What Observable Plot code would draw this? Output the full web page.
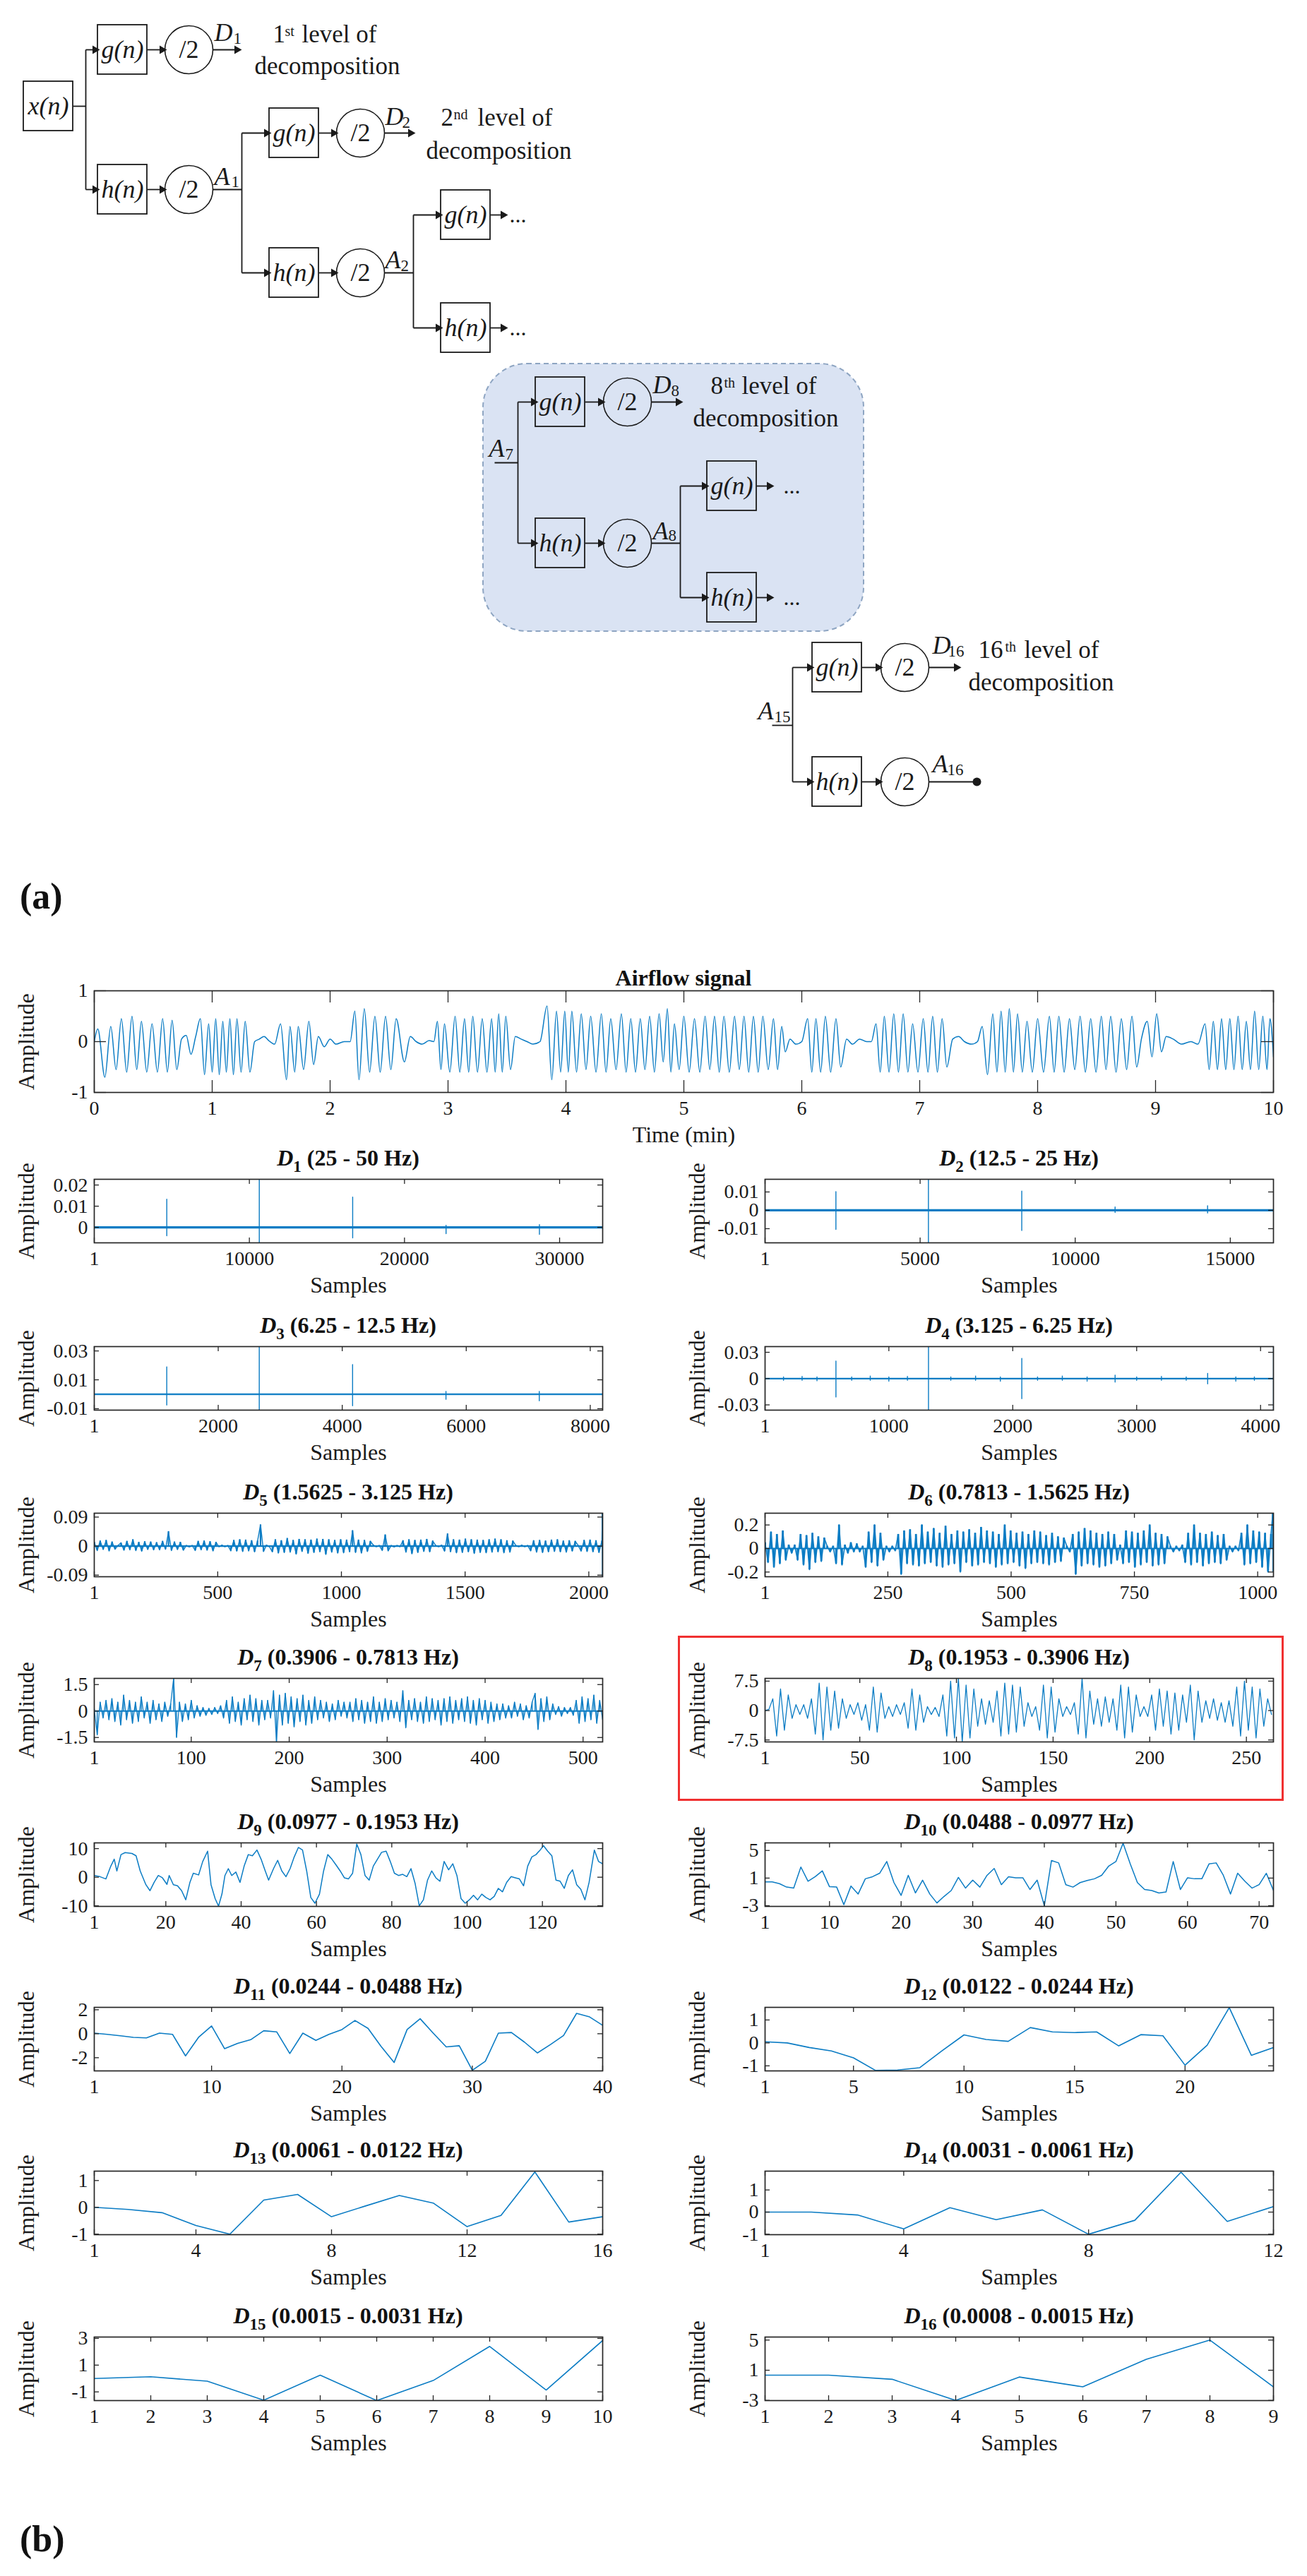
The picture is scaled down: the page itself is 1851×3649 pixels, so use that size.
<!DOCTYPE html>
<html><head><meta charset="utf-8">
<script src="https://cdn.jsdelivr.net/npm/d3@7"></script>
<script src="https://cdn.jsdelivr.net/npm/@observablehq/plot@0.6"></script>
<style>
body{margin:0;background:#fff;}
#fig{position:relative;width:1851px;height:3649px;font-family:"Liberation Serif","Times New Roman",serif;color:#111;overflow:hidden;background:#fff}
.ptitle{position:absolute;transform:translateX(-50%);white-space:nowrap;font-weight:bold;font-size:32px;line-height:40px;height:40px}
.ptitle sub{font-size:0.72em;vertical-align:-0.38em;line-height:0}
.lbl{position:absolute;font-weight:bold;font-size:52px;line-height:60px}
</style></head><body><div id="fig"></div>
<script>
// ---------------- DATA ----------------
// Diagram (a): filter boxes (centre), downsamplers, wires, arrows
const boxNodes = [
  {label:"x(n)", cx:68, cy:150},
  {label:"g(n)", cx:173, cy:70}, {label:"h(n)", cx:173, cy:268},
  {label:"g(n)", cx:416, cy:188}, {label:"h(n)", cx:416, cy:386},
  {label:"g(n)", cx:659, cy:304}, {label:"h(n)", cx:659, cy:464},
  {label:"g(n)", cx:793, cy:569}, {label:"h(n)", cx:793, cy:769},
  {label:"g(n)", cx:1036, cy:688}, {label:"h(n)", cx:1036, cy:846},
  {label:"g(n)", cx:1185, cy:945}, {label:"h(n)", cx:1185, cy:1107}
];
const downsamplers = [[267,70],[267,268],[510,188],[510,386],[888,569],[888,769],[1281,945],[1281,1107]];
const wires = [[103,150,121,150],[121,70,121,268],[301,268,342,268],[342,188,342,386],[544,386,585,386],[585,304,585,464],
  [700,655,733,655],[733,569,733,769],[922,769,963,769],[963,688,963,846],[1093,1027,1122,1027],[1122,945,1122,1107],[1315,1107,1383,1107]];
const arrows = [[121,70,138,70],[121,268,138,268],[208,70,233,70],[208,268,233,268],[301,70,339,70],
  [342,188,381,188],[342,386,381,386],[451,188,476,188],[451,386,476,386],[544,188,585,188],
  [585,304,624,304],[585,464,624,464],[694,304,716,304],[694,464,716,464],
  [733,569,759,569],[733,769,759,769],[828,569,854,569],[828,769,854,769],[922,569,964,569],
  [963,688,1001,688],[963,846,1001,846],[1071,688,1093,688],[1071,846,1093,846],
  [1122,945,1150,945],[1122,1107,1150,1107],[1220,945,1247,945],[1220,1107,1247,1107],[1315,945,1358,945]];
const endPoint = [[1383,1107]];
const highlight = [{x1:684, x2:1223, y1:515, y2:894}];
const symLabels = [
  {sym:"D", sub:"1", x:303, y:46, sx:330, sy:54},
  {sym:"A", sub:"1", x:303, y:250, sx:327, sy:257},
  {sym:"D", sub:"2", x:545, y:165, sx:569, sy:173},
  {sym:"A", sub:"2", x:545, y:368, sx:567, sy:376},
  {sym:"D", sub:"8", x:924, y:545, sx:950, sy:553},
  {sym:"A", sub:"7", x:692, y:635, sx:715, sy:643},
  {sym:"A", sub:"8", x:924, y:752, sx:946, sy:758},
  {sym:"D", sub:"16", x:1320, y:914, sx:1342, sy:922},
  {sym:"A", sub:"15", x:1073, y:1007, sx:1096, sy:1015},
  {sym:"A", sub:"16", x:1320, y:1082, sx:1341, sy:1090}
];
const levelParts = [
  {t:"1", x:386, y:48, s:35}, {t:"st", x:403, y:44, s:20}, {t:"level of", x:427, y:48, s:35},
  {t:"2", x:624, y:166, s:35}, {t:"nd", x:642, y:162, s:20}, {t:"level of", x:676, y:166, s:35},
  {t:"8", x:1006, y:546, s:35}, {t:"th", x:1025, y:542, s:20}, {t:"level of", x:1050, y:546, s:35},
  {t:"16", x:1385, y:920, s:35}, {t:"th", x:1423, y:916, s:20}, {t:"level of", x:1450, y:920, s:35}
];
const levelSecond = [[463,93],[706,213],[1084,592],[1474,966]];
const ellipses = [[721,304],[721,464],[1109,688],[1109,846]];

// Airflow signal: [time (min), amplitude]
const airflow = [
 [0,0],[0.03,0.25],[0.09,-0.7],[0.14,0.3],[0.185,-0.55],[0.23,0.45],[0.275,-0.6],[0.32,0.5],[0.36,-0.55],[0.40,0.4],[0.445,-0.6],[0.49,0.35],[0.535,-0.6],[0.58,0.45],[0.62,-0.6],[0.66,0.42],[0.70,-0.55],
 [0.74,0.05],[0.78,0.12],[0.82,-0.25],
 [0.86,0.1],[0.90,0.45],[0.935,-0.65],[0.97,0.35],[1.0,-0.6],[1.03,0.45],[1.06,-0.65],[1.09,0.4],[1.12,-0.6],[1.15,0.45],[1.18,-0.65],[1.21,0.45],[1.245,-0.6],[1.28,0.4],[1.32,-0.6],
 [1.36,0.0],[1.40,0.05],[1.44,0.1],[1.48,0.02],[1.53,-0.05],
 [1.58,0.35],[1.63,-0.75],[1.66,0.3],[1.70,-0.6],[1.73,0.3],[1.775,-0.55],[1.82,0.4],[1.86,-0.45],
 [1.90,0.1],[1.95,-0.1],[2.0,0.05],[2.05,-0.05],[2.12,0.0],
 [2.17,0.0],[2.21,0.6],[2.245,-0.75],[2.29,0.65],[2.335,-0.6],[2.38,0.5],[2.425,-0.6],[2.47,0.5],[2.515,-0.55],[2.56,0.45],[2.63,-0.4],
 [2.68,0.1],[2.73,0.0],[2.78,-0.05],[2.84,0.02],
 [2.88,0.0],[2.91,0.4],[2.94,-0.55],[2.97,0.35],[3.015,-0.6],[3.06,0.5],[3.10,-0.6],[3.14,0.45],[3.175,-0.6],[3.21,0.5],[3.25,-0.6],[3.29,0.45],[3.33,-0.6],[3.37,0.45],[3.40,-0.6],[3.43,0.55],[3.46,-0.6],[3.49,0.5],[3.53,-0.55],
 [3.57,0.1],[3.62,0.05],[3.67,0.0],[3.72,-0.05],[3.78,0.0],
 [3.84,0.7],[3.88,-0.75],[3.92,0.6],[3.955,-0.6],[3.99,0.6],[4.02,-0.6],[4.05,0.6],[4.09,-0.6],[4.13,0.55],[4.17,-0.55],[4.21,0.5],[4.255,-0.6],[4.30,0.55],[4.34,-0.6],[4.38,0.45],[4.425,-0.55],[4.47,0.55],[4.51,-0.6],[4.55,0.45],[4.59,-0.6],[4.63,0.45],[4.67,-0.55],[4.71,0.5],[4.75,-0.6],[4.79,0.55],[4.825,-0.4],[4.86,0.65],[4.89,-0.6],[4.92,0.35],[4.96,-0.55],[5.0,0.5],[5.045,-0.6],[5.09,0.45],[5.135,-0.6],[5.18,0.5],[5.22,-0.55],[5.26,0.5],[5.30,-0.6],[5.34,0.5],[5.385,-0.6],[5.43,0.5],[5.47,-0.55],[5.51,0.5],[5.55,-0.6],[5.59,0.5],[5.63,-0.6],[5.67,0.5],[5.715,-0.55],[5.76,0.45],[5.795,-0.55],[5.83,0.3],[5.86,-0.2],
 [5.90,0.05],[5.95,-0.05],[6.0,0.0],
 [6.05,0.45],[6.085,-0.6],[6.12,0.45],[6.16,-0.6],[6.20,0.5],[6.245,-0.6],[6.29,0.45],[6.33,-0.5],
 [6.38,0.05],[6.43,-0.05],[6.49,0.05],[6.55,0.0],
 [6.59,0.0],[6.63,0.35],[6.665,-0.6],[6.70,0.5],[6.74,-0.6],[6.78,0.55],[6.82,-0.6],[6.86,0.55],[6.90,-0.6],[6.94,0.35],[6.985,-0.6],[7.03,0.45],[7.07,-0.6],[7.11,0.5],[7.15,-0.6],[7.19,0.45],[7.23,-0.5],
 [7.28,0.05],[7.33,0.1],[7.38,0.0],[7.44,-0.05],[7.49,0.0],
 [7.53,0.3],[7.575,-0.65],[7.62,0.55],[7.655,-0.6],[7.69,0.6],[7.725,-0.6],[7.76,0.65],[7.795,-0.6],[7.83,0.55],[7.87,-0.6],[7.91,0.4],[7.955,-0.6],[8.0,0.45],[8.05,-0.6],[8.10,0.5],[8.14,-0.6],[8.18,0.5],[8.225,-0.6],[8.27,0.45],[8.315,-0.55],[8.36,0.5],[8.405,-0.6],[8.45,0.45],[8.495,-0.6],[8.54,0.5],[8.58,-0.55],[8.62,0.5],[8.665,-0.6],[8.71,0.45],[8.755,-0.55],[8.80,0.5],[8.84,-0.5],
 [8.88,0.05],[8.93,0.4],[8.97,-0.3],[9.01,0.55],[9.05,-0.2],[9.09,0.1],
 [9.15,0.05],[9.22,-0.05],[9.30,0.0],[9.36,-0.05],
 [9.42,0.35],[9.455,-0.55],[9.49,0.4],[9.525,-0.55],[9.56,0.45],[9.595,-0.55],[9.63,0.45],[9.665,-0.55],[9.70,0.5],[9.735,-0.55],[9.77,0.4],[9.805,-0.55],[9.84,0.6],[9.875,-0.55],[9.91,0.5],[9.945,-0.55],[9.97,0.45],[10.0,-0.3]
];

// Detail levels: band labels, lengths, ticks, y ranges
const bands = ["25 - 50","12.5 - 25","6.25 - 12.5","3.125 - 6.25","1.5625 - 3.125","0.7813 - 1.5625","0.3906 - 0.7813","0.1953 - 0.3906",
  "0.0977 - 0.1953","0.0488 - 0.0977","0.0244 - 0.0488","0.0122 - 0.0244","0.0061 - 0.0122","0.0031 - 0.0061","0.0015 - 0.0031","0.0008 - 0.0015"];
const lengths = [32776,16392,8200,4104,2056,1032,520,264,136,72,40,24,16,12,10,9];
const xTickSets = [[1,10000,20000,30000],[1,5000,10000,15000],[1,2000,4000,6000,8000],[1,1000,2000,3000,4000],[1,500,1000,1500,2000],
  [1,250,500,750,1000],[1,100,200,300,400,500],[1,50,100,150,200,250],[1,20,40,60,80,100,120],[1,10,20,30,40,50,60,70],
  [1,10,20,30,40],[1,5,10,15,20],[1,4,8,12,16],[1,4,8,12],[1,2,3,4,5,6,7,8,9,10],[1,2,3,4,5,6,7,8,9]];
const yTickSets = [[0,0.01,0.02],[-0.01,0,0.01],[-0.01,0.01,0.03],[-0.03,0,0.03],[-0.09,0,0.09],[-0.2,0,0.2],[-1.5,0,1.5],[-7.5,0,7.5],
  [-10,0,10],[-3,1,5],[-2,0,2],[-1,0,1],[-1,0,1],[-1,0,1],[-1,1,3],[-3,1,5]];
const yDomains = [[-0.0073,0.0227],[-0.0177,0.0169],[-0.011,0.033],[-0.036,0.0365],[-0.095,0.102],[-0.24,0.30],[-1.75,1.85],[-8.0,8.2],
  [-10.2,12],[-3.1,6.1],[-3.1,2.2],[-1.22,1.55],[-1.02,1.35],[-1.02,1.85],[-1.65,3.1],[-3.02,5.4]];

// D1-D4: isolated spikes on a flat baseline (sample, max, min)
const d1SpikeX = [4676,10640,16660,22680,28700], d1Hi = [0.0133,0.03,0.0143,0.001,0.0013], d1Lo = [-0.004,-0.01,-0.005,-0.003,-0.0033];
const d2SpikeX = [2285,5268,8277,11286,14268], d2Hi = [0.0102,0.02,0.0105,0.0018,0.0025], d2Lo = [-0.0104,-0.02,-0.011,-0.0012,-0.0015];
const d3SpikeX = [1170,2662,4167,5673,7178], d3Hi = [0.019,0.04,0.0205,0.002,0.002], d3Lo = [-0.0075,-0.012,-0.008,-0.0035,-0.0045];
const d4SpikeX = [150,300,420,573,700,850,1000,1150,1320,1500,1700,1900,2073,2200,2400,2600,2826,3000,3200,3400,3573,3800,3950,4104],
      d4Hi = [0.002,0.0025,0.002,0.02,0.002,0.003,0.002,0.0025,0.04,0.002,0.003,0.002,0.023,0.002,0.003,0.002,0.004,0.002,0.0025,0.002,0.006,0.002,0.002,0.036],
      d4Lo = [-0.002,-0.002,-0.0025,-0.021,-0.002,-0.002,-0.003,-0.002,-0.04,-0.002,-0.002,-0.003,-0.023,-0.002,-0.002,-0.003,-0.004,-0.002,-0.002,-0.002,-0.006,-0.003,-0.002,-0.036];

// D5 (every 12th sample), D6 (every 6th), D7 (every 3rd), D8 (every 2nd)
const d5Vals = [.012,-.014,.016,-.011,.018,-.015,.013,-.01, .002,
 .01,-.013,.015,-.012,.02,-.014,.012,-.016,.014,-.011,.013,-.012,
 .011,-.012,.015,-.01,.045,-.014,.013,-.011,.012,-.013, .002,-.003,.002,
 -.014,.015,-.012,.016,-.013,.014,-.015,.012, -.002,.003,-.002,.002,
 -.015,.018,-.016,.02,-.017,.019,-.015,.017,-.018,.016, .066,-.017, .003,-.002,
 -.018,.02,-.022,.017,-.02,.024,-.019,.018,-.025,.021,-.017,.02,-.023,.019,-.02,.022,-.018,.021,-.026,.02,-.019,.018,-.022,.02,-.021,.019,-.018,.048,-.02,.019,-.022,.018,-.017,.015,
 .003,-.002,.002, -.014,.035,-.015, .002,-.003,.002,-.002,
 .017,-.019,.02,-.024,.018,-.02,.019,-.017,.021,-.018,.016, .002,-.002,.003,
 -.016,.038,-.018,.02,-.021,.019,-.02,.022,-.018,.02,-.023,.019,-.02,.018,-.021,.02,-.019,.022,-.018,.02,-.021,.017,-.019,.016,
 .002,-.002,.003,-.002,.002,
 -.015,.017,-.019,.018,-.02,.016,-.018,.019,-.017,.02,-.018,.016,-.019,.017,-.016,.015, .002,
 -.016,.018,-.017,.019,-.018,.017,-.02,.016];
const d5End = [[2055,0.11],[2056,-0.1]];
const d6Vals = [.05,-.12,.14,-.16,.12,-.13,.15,-.1, .03,-.04,.03,
 -.1,.12,-.14,.11,-.18,.13,-.12,.1,-.11,.09, .02,-.03,.02, -.13,.2,-.14,
 .03,-.04,.05,-.03,.04,-.03,.02, -.16,.14,-.12,.2,-.15,.13,-.1, .02,-.03,.02,-.02,
 .12,-.22,.15,-.13,.16,-.14,.12,-.15,.2,-.13,.14,-.12,.17,-.15,.13,-.16,.19,-.14,.12,-.13,
 .15,-.2,.14,-.12,.16,-.15,.13,-.14,.18,-.12,.15,-.13,.14,-.16,.12,-.14,.2,-.13,.15,-.12,
 .13,-.15,.14,-.17,.12,-.13,.15,-.12,.14,-.13,.11,-.14,.13,-.12,.1,-.11,.09,
 .02,-.03, .12,-.22,.14,-.15,.17,-.13,.15,-.14,.13,-.16,.12,-.15,.14,-.13,.12,-.1, .03,
 -.13,.15,-.12,.14,-.16,.13,-.14,.15,-.12,.2,-.15,.13,-.14,.12,-.13,.1, .02,-.03,.02,-.02,.03,
 -.12,.13,-.14,.2,-.12,.13,-.15,.12,-.13,.14,-.12,.11,-.13,.12,-.1, .02,-.03,.02,-.02,
 .13,-.14,.2,-.13,.15,-.12,.14,-.16,.13,-.2,.12];
const d6End = [[1031,0.32],[1032,-0.2]];
const d7Vals = [.1,-1.35,.5,-.4,
 .6,-.5,.7,-.6,.5,-.8,.9,-.5,.6,-.7,.5,-.6,.8,-.4,.5,-.7,.6,-.5,.4,-.6,.5,
 -.3,.4, 1.85, -1.5,
 .5,-.6,.4,-.5,.6,-.4,.3,-.3,.2,-.25,.15,-.2,.2,-.15,.3,-.4,
 .6,-.7,.8,-.6,.5,-.8,.7,-.5,.9,-.6,.7,-.8,.6,-.5,.6,
 -.4,1.15, -1.75,
 .9,-.8,1.0,-.7,.8,-.9,.7,-.6,.9,-.8,.6,-.7,.8,
 -.5,.6,-.4,.5,-.6,.4,-.5,.6,-.3,.5,-.4,.5,
 -.6,.7,-.5,.6,-.7,.5,-.6,.8,-.7,.5,-.6,.7,-.5,.6,-.4,.5,-.6,
 1.15, -.95,
 .6,-.5,.7,-.6,.5,-.7,.8,-.6,.7,-.5,.6,-.8,.7,-.6,.8,-.7,.6,-.5,
 .7,-.6,.8,-.7,.6,-.8,.7,-.5,.6,-.7,.5,-.6,.4,-.5,.4,-.4,
 .3,-.4,.5,-.3,.4,-.5,.3,-.4,.5, 1.0, -1.05, .7,-.6,.8,-.5,.4,
 -.2,.25,-.3,.2,-.15,.2,-.25, .6,-.7,.8,-.6,.7,-.5,.9,-.7,.6,-.5];
const d8Vals = [0,.3,3,-6.5,5.5,-5,4,-2,1.5,-1,1.5,-2,3,-6,7,-7.5,6,-5,5,-4.5,3,-2,1.5,-1,2,-2.5,1.5,-5,6,-5.5,
 4.5,-2,1,-1.5,1.5,-1,2,-4.5,5.5,-5,4,-3,1,-1,.8,-1.5,4,-6.5,7.5,-7,8.2,-8,6.5,-7,5.5,-4,3,-3.5,2.5,-3,
 5,-6.5,7,-6,6.5,-5.5,6,-4,2,-1.5,1,-5,6.5,-7,6,-5.5,3,-1.5,1,-1,2,-6,8.2,-7,5,-3.5,3,-4,3.5,-3,
 3,-5,6.5,-7,6,-5.5,4,-1.5,1,-1.5,4,-5,5.5,-4,5,-6,4.5,-5,4,-3,6.5,-7.5,5,-3,2.5,-2,3,-2.5,2,-3,
 2.5,-4,6,-6.5,7.5,-5,6,-7,5.5,-4,3,-1];
// D9, D10: [sample, amplitude]; D11-D16 one value per sample
const d9 = [[1,0.6],[2.5,0.2],[4.1,-0.6],[5.4,3.9],[6.3,6.3],[7,2.2],[8.1,7.9],[9.2,8.6],[11,8.3],[12.1,7.5],[13.2,2.2],[14.7,-2.6],[15.8,-4.7],[16.9,-1.8],[18,0.6],[19.1,-0.2],[20.3,-2.5],[20.9,0.6],[22,-2.6],[23.1,-3],[24.2,-4.7],[25.3,-7.9],[26.4,-1.8],[27.3,1.4],[28.7,0.8],[29.8,5.5],[31.1,9.1],[32,-2.6],[33.1,-7.5],[34,-10.1],[34.9,-5.9],[35.7,0.6],[36.6,3],[37.5,0.6],[38.6,1.8],[39.7,-1.8],[40.8,3.9],[41.9,7.9],[43,7.5],[44.2,9.5],[45.3,6.3],[46.4,2.2],[47.3,-1],[48.6,3],[49.7,5.9],[50.8,2.2],[51.9,0.2],[53,3],[54.1,7.1],[55.2,10.4],[56.3,9.5],[57.4,2.2],[58.5,-7.1],[59.6,-9.1],[60.8,-5.9],[61.9,2.2],[63,7.9],[64.1,6.3],[65.2,4.3],[66.3,2.2],[67.4,-0.2],[68.5,-0.6],[69.6,1.4],[70.7,11.6],[71.8,7.9],[72.9,0.6],[74,-1],[75.1,3.9],[76.2,6.3],[77.3,8.7],[78.5,9.1],[79.6,5.5],[80.7,1.4],[81.8,0.6],[82.9,1],[84,0.2],[85.1,3],[86.2,-2.2],[87.3,-10],[88.4,-7.9],[89.5,-1],[90.6,2.2],[91.7,-0.2],[92.8,-1.4],[93.9,5.5],[95.1,2.6],[96.2,4.7],[97.3,0.6],[98.4,-7.5],[99.5,-9.1],[100.6,-7.9],[101.7,-6.3],[102.8,-7.9],[103.9,-5.9],[105,-7.1],[106.1,-7.9],[107.2,-6.7],[108.3,-3.9],[109.4,-5.1],[110.5,-1.8],[111.7,0.2],[112.8,-0.2],[113.9,-0.6],[115,-3],[116.1,3.9],[117.2,7.1],[118.3,7.9],[119.4,9.5],[120.3,11],[121.4,9.1],[122.5,7.5],[123.6,-1],[124.7,-1.4],[125.8,-3.9],[126.9,0.6],[128,2.6],[129.1,-2.6],[130.2,-4.2],[131.3,-7.9],[132.4,-1.8],[133.8,9.5],[134.9,5.5],[136,4.7]];
const d10 = [0.45,0.45,0.2,-0.3,-0.45,2.6,0.55,1.2,2.05,-0.25,-0.3,-2.85,-0.15,-1.3,0.9,1.2,1.7,3.4,0.35,-1.5,1.4,-1.15,0.7,-1.3,-2.6,-1.65,-0.8,1.1,-0.45,0.7,-0.3,1.4,2.4,0.05,1.2,1.05,1.05,-0.65,0.7,-3.0,3.55,3.2,0.05,-0.3,0.35,0.65,0.9,1.4,2.75,3.4,6.05,3.05,0.35,-0.65,-0.8,-1.15,-1.0,3.4,-0.65,1.05,0.9,0.9,3.05,3.2,1.4,-1.3,1.7,0.55,-0.45,0.05,1.7,-0.8];
const d11 = [0.05,-0.05,-0.17,-0.3,-0.35,0.05,-0.05,-1.85,-0.3,0.65,-1.25,-0.8,-0.5,0.25,0.15,-1.65,0.05,-0.55,-0.05,0.35,1.1,0.45,-1.05,-2.4,0.35,1.25,0.05,-1.1,-1.0,-3.05,-2.3,0.05,0.1,-0.7,-1.6,-0.9,-0.15,1.7,1.4,0.7];
const d12 = [0.05,0,-0.2,-0.35,-0.65,-1.2,-1.18,-1.08,-0.35,0.35,0.15,0.07,0.67,0.48,0.45,0.48,-0.13,0.36,0.31,-0.97,-0.1,1.54,-0.54,-0.2];
const d13 = [0,-0.08,-0.2,-0.68,-1.0,0.27,0.48,-0.35,0.05,0.44,0.16,-0.72,-0.3,1.32,-0.55,-0.35];
const d14 = [0,0,-0.13,-0.76,0.2,-0.34,0.1,-1.0,-0.37,1.8,-0.42,0.25];
const d15 = [0,0.13,-0.2,-1.62,0.25,-1.65,-0.15,2.4,-0.86,2.84];
const d16 = [0.35,0.35,-0.2,-3.0,0.1,-1.2,2.45,5.0,-1.2];

// ---------------- DRAWING ----------------
const FONT = '"Liberation Serif", "Times New Roman", serif';
const COLOR = "#0b7cc4", AX = "#262626", INK = "#1a1a1a";
const fig = document.getElementById("fig");
function place(el, left, top){ el.style.position = "absolute"; el.style.left = left + "px"; el.style.top = top + "px"; fig.appendChild(el); }

// ---- (a) diagram ----
const diag = Plot.plot({
  width: 1851, height: 1330, margin: 0,
  x: {domain: [0, 1851], range: [0, 1851], axis: null}, y: {domain: [0, 1330], range: [0, 1330], axis: null},
  style: {fontFamily: FONT, background: "transparent", overflow: "visible"},
  marks: [
    Plot.rect(highlight, {x1: "x1", x2: "x2", y1: "y1", y2: "y2", rx: 62, ry: 62, fill: "#dae3f3", stroke: "#8ea5c2", strokeWidth: 2, strokeDasharray: "7,5"}),
    Plot.link(wires, {x1: d => d[0], y1: d => d[1], x2: d => d[2], y2: d => d[3], stroke: INK, strokeWidth: 1.8}),
    Plot.link(arrows, {x1: d => d[0], y1: d => d[1], x2: d => d[2] - 3, y2: d => d[3], stroke: INK, strokeWidth: 1.8}),
    Plot.dot(arrows, {x: d => d[2] - 4, y: d => d[3], symbol: "triangle", rotate: 90, r: 4.5, fill: INK, stroke: "none"}),
    Plot.dot(endPoint, {x: d => d[0], y: d => d[1], r: 6, fill: INK}),
    Plot.rect(boxNodes, {x1: d => d.cx - 35, x2: d => d.cx + 35, y1: d => d.cy - 35, y2: d => d.cy + 35, fill: "none", stroke: INK, strokeWidth: 1.8}),
    Plot.dot(downsamplers, {x: d => d[0], y: d => d[1], r: 34, fill: "none", stroke: INK, strokeWidth: 1.6}),
    Plot.text(boxNodes, {x: "cx", y: "cy", text: "label", fontSize: 36, fontStyle: "italic", fill: INK}),
    Plot.text(downsamplers, {x: d => d[0], y: d => d[1], text: () => "/2", fontSize: 36, fill: INK}),
    Plot.text(symLabels, {x: "x", y: "y", text: "sym", fontSize: 36, fontStyle: "italic", textAnchor: "start", fill: INK}),
    Plot.text(symLabels, {x: "sx", y: "sy", text: "sub", fontSize: 23, textAnchor: "start", fill: INK}),
    Plot.text(levelParts, {x: "x", y: "y", text: "t", fontSize: d => d.s, textAnchor: "start", fill: INK}),
    Plot.text(levelSecond, {x: d => d[0], y: d => d[1], text: () => "decomposition", fontSize: 35, fill: INK}),
    Plot.text(ellipses, {x: d => d[0], y: d => d[1], text: () => "...", fontSize: 32, textAnchor: "start", fill: INK})
  ]
});
place(diag, 0, 0);

function addLabel(text, left, cy){ const d = document.createElement("div"); d.className = "lbl"; d.textContent = text; d.style.left = left + "px"; d.style.top = (cy - 30) + "px"; fig.appendChild(d); }
addLabel("(a)", 28, 1270);
addLabel("(b)", 28, 3597);

function addTitle(html, cx, cy){ const d = document.createElement("div"); d.className = "ptitle"; d.innerHTML = html; d.style.left = cx + "px"; d.style.top = (cy - 20) + "px"; fig.appendChild(d); }

// ---- panel builder ----
function makePanel(cfg){
  const {left, top, w, h, xDomain, yDomain, xTicks, yTicks, marks, xlabel, tickLen} = cfg;
  const ml = 120, mr = 14, mt = 6, mb = 84;
  const chart = Plot.plot({
    width: w + ml + mr, height: h + mt + mb,
    marginLeft: ml, marginRight: mr, marginTop: mt, marginBottom: mb,
    x: {domain: xDomain}, y: {domain: yDomain},
    style: {fontFamily: FONT, background: "transparent", overflow: "visible", color: "#1a1a1a"},
    marks: [
      ...marks,
      Plot.tickX(xTicks, {x: d => d, insetTop: h - tickLen, stroke: AX, strokeWidth: 1.3}),
      Plot.tickX(xTicks, {x: d => d, insetBottom: h - tickLen, stroke: AX, strokeWidth: 1.3}),
      Plot.tickY(yTicks, {y: d => d, insetRight: w - tickLen, stroke: AX, strokeWidth: 1.3}),
      Plot.tickY(yTicks, {y: d => d, insetLeft: w - tickLen, stroke: AX, strokeWidth: 1.3}),
      Plot.frame({stroke: AX, strokeWidth: 1.7}),
      Plot.axisX({ticks: xTicks, tickSize: 0, tickPadding: 12, fontSize: 28, tickFormat: d => String(d), label: null}),
      Plot.axisY({ticks: yTicks, tickSize: 0, tickPadding: 9, fontSize: 28, tickFormat: d => String(d), label: null}),
      Plot.text([xlabel], {text: d => d, frameAnchor: "bottom", dy: 60, fontSize: 32, textAnchor: "middle", lineAnchor: "middle"}),
      Plot.text(["Amplitude"], {text: d => d, frameAnchor: "left", dx: -96, rotate: -90, fontSize: 32, textAnchor: "middle", lineAnchor: "middle"})
    ]
  });
  place(chart, left - ml, top - mt);
}

// airflow
makePanel({left: 133, top: 1403, w: 1670, h: 144, xDomain: [0, 10], yDomain: [-1, 1],
  xTicks: [0,1,2,3,4,5,6,7,8,9,10], yTicks: [-1, 0, 1], xlabel: "Time (min)", tickLen: 17,
  marks: [Plot.line(airflow, {x: d => d[0], y: d => d[1], stroke: COLOR, strokeWidth: 1.5, curve: "monotone-x", clip: true})]});
addTitle("Airflow signal", 968, 1385);

function spikeLine(N, xs, hi, lo){
  const pts = [[1, 0]];
  xs.forEach((x, i) => { pts.push([x, 0], [x, hi[i]], [x, lo[i]], [x, 0]); });
  pts.push([N, 0]);
  return pts;
}
function stepSeries(vals, step){ return vals.map((v, i) => [1 + step * i, v]); }
function idxSeries(vals){ return vals.map((v, i) => [i + 1, v]); }
const lineOpts = (sw) => ({x: d => d[0], y: d => d[1], stroke: COLOR, strokeWidth: sw, clip: true});
const denseMarks = (pts, rw, lw) => [
  Plot.ruleX(pts, {x: d => d[0], y1: 0, y2: d => d[1], stroke: COLOR, strokeWidth: rw, clip: true}),
  Plot.line(pts, lineOpts(lw))
];

const levelMarks = [
  [Plot.ruleY([0], {stroke: COLOR, strokeWidth: 3.2}), Plot.line(spikeLine(lengths[0], d1SpikeX, d1Hi, d1Lo), lineOpts(1.4))],
  [Plot.ruleY([0], {stroke: COLOR, strokeWidth: 3.2}), Plot.line(spikeLine(lengths[1], d2SpikeX, d2Hi, d2Lo), lineOpts(1.4))],
  [Plot.ruleY([0], {stroke: COLOR, strokeWidth: 2.4, strokeOpacity: 0.8}), Plot.line(spikeLine(lengths[2], d3SpikeX, d3Hi, d3Lo), lineOpts(1.4))],
  [Plot.ruleY([0], {stroke: COLOR, strokeWidth: 2.2}), Plot.line(spikeLine(lengths[3], d4SpikeX, d4Hi, d4Lo), lineOpts(1.4))],
  [Plot.ruleY([0], {stroke: COLOR, strokeWidth: 2.2}), ...denseMarks(stepSeries(d5Vals, 12).concat(d5End), 2.2, 1.4)],
  [Plot.ruleY([0], {stroke: COLOR, strokeWidth: 2.2}), ...denseMarks(stepSeries(d6Vals, 6).concat(d6End), 2.8, 1.6)],
  [Plot.ruleY([0], {stroke: COLOR, strokeWidth: 2}), ...denseMarks(stepSeries(d7Vals, 3), 1.4, 1.3)],
  [Plot.line(stepSeries(d8Vals, 2), lineOpts(1.3))],
  [Plot.line(d9, lineOpts(1.5))],
  [Plot.line(idxSeries(d10), lineOpts(1.5))],
  [Plot.line(idxSeries(d11), lineOpts(1.6))],
  [Plot.line(idxSeries(d12), lineOpts(1.6))],
  [Plot.line(idxSeries(d13), lineOpts(1.6))],
  [Plot.line(idxSeries(d14), lineOpts(1.6))],
  [Plot.line(idxSeries(d15), lineOpts(1.6))],
  [Plot.line(idxSeries(d16), lineOpts(1.6))]
];

const rowTops = [1670, 1907, 2143, 2377, 2610, 2843, 3075, 3310];
const colLefts = [133, 1083];
for (let k = 0; k < 16; k++){
  const row = Math.floor(k / 2), col = k % 2;
  const left = colLefts[col], top = rowTops[row], w = 720, h = 90;
  makePanel({left, top, w, h, xDomain: [1, lengths[k]], yDomain: yDomains[k], xTicks: xTickSets[k], yTicks: yTickSets[k],
    xlabel: "Samples", tickLen: 7, marks: levelMarks[k]});
  addTitle(`<i>D</i><sub>${k + 1}</sub> (${bands[k]} Hz)`, left + w / 2, top - 30);
}

// highlight of D8
const red = document.createElement("div");
red.style.cssText = "position:absolute;left:960px;top:2317px;width:852px;height:228px;border:3px solid #f03030;";
fig.appendChild(red);
</script></body></html>
